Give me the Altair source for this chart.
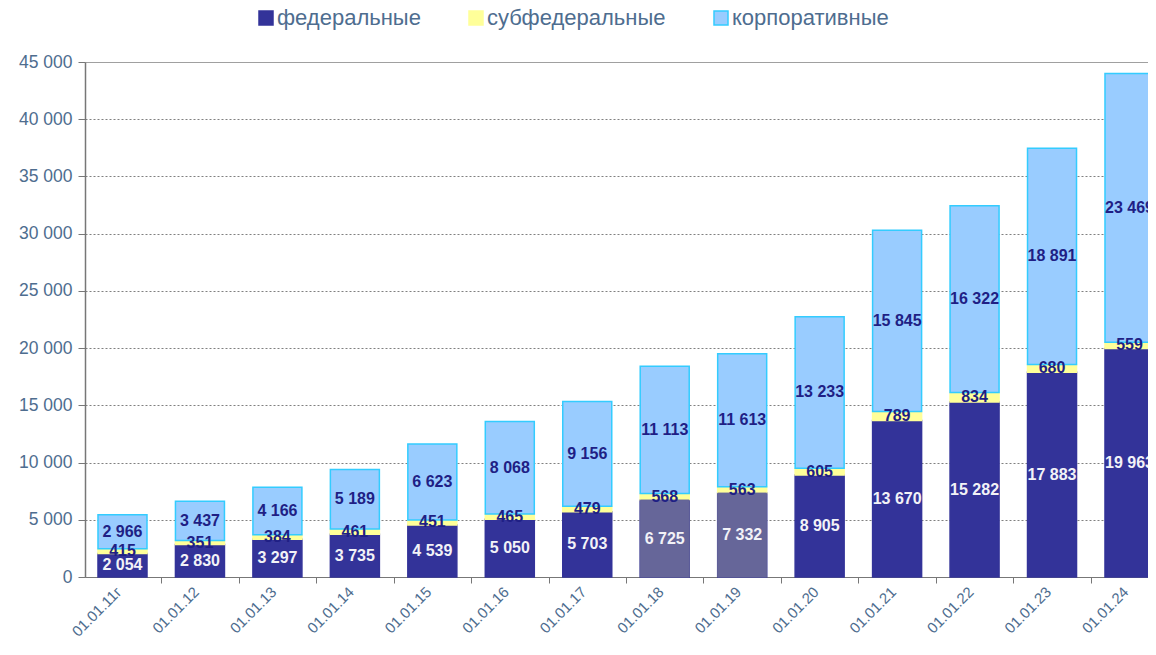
import json
import altair as alt
import pandas as pd

dates = ["01.01.11г", "01.01.12", "01.01.13", "01.01.14", "01.01.15", "01.01.16", "01.01.17",
         "01.01.18", "01.01.19", "01.01.20", "01.01.21", "01.01.22", "01.01.23", "01.01.24"]
federal = [2054, 2830, 3297, 3735, 4539, 5050, 5703, 6725, 7332, 8905, 13670, 15282, 17883, 19963]
subfederal = [415, 351, 384, 461, 451, 465, 479, 568, 563, 605, 789, 834, 680, 559]
corporate = [2966, 3437, 4166, 5189, 6623, 8068, 9156, 11113, 11613, 13233, 15845, 16322, 18891, 23469]
series_names = ["федеральные", "субфедеральные", "корпоративные"]
muted_dates = ["01.01.18", "01.01.19"]
y_ticks = list(range(0, 45001, 5000))

rows = []
for i, d in enumerate(dates):
    for k, (name, vals) in enumerate(zip(series_names, [federal, subfederal, corporate])):
        rows.append({"date": d, "idx": i, "series": name, "ord": k, "value": vals[i],
                     "muted": (k == 0 and d in muted_dates)})
df = pd.DataFrame(rows)

FONT = "Liberation Sans"
AXIS_TXT = "#4e6d8f"
GRID = "#808080"
HALF = 0.3163  # half bar width in category units

fill_scale = alt.Scale(domain=series_names, range=["#333399", "#FFFF99", "#99CCFF"])
stroke_scale = alt.Scale(domain=series_names, range=["#333399", "#FFFF99", "#33CCFF"])
x_scale = alt.Scale(domain=[-0.484, 13.239], nice=False, zero=False)
date_array = json.dumps(dates, ensure_ascii=False).replace('"', "'")

label_axis = alt.Axis(orient="bottom", values=list(range(len(dates))),
                      labelExpr=date_array + "[datum.value]",
                      labelAngle=-45, labelAlign="right", labelBaseline="middle",
                      labelFontSize=15, labelColor=AXIS_TXT, labelFont=FONT,
                      labelOffset=-4, labelPadding=12, ticks=False, domain=False, grid=False,
                      labelOverlap=False, labelFlush=False)
tick_axis = alt.Axis(orient="bottom", values=[i - 0.5 for i in range(len(dates))],
                     labels=False, ticks=True, tickSize=6, tickColor="#777777",
                     domain=True, domainColor="#777777", domainWidth=1.2, grid=False)

y_axis = alt.Axis(values=y_ticks, labelFontSize=17.5, labelColor=AXIS_TXT, labelFont=FONT,
                  labelExpr="replace(format(datum.value, ','), ',', ' ')",
                  tickSize=7, tickColor="#777777", domainColor="#777777",
                  domainWidth=1.5, labelPadding=6,
                  grid=True, gridColor=GRID, gridWidth=1,
                  gridDash={"condition": {"test": "datum.value === 45000", "value": [1, 0]},
                            "value": [2, 2]})
y_scale = alt.Scale(domain=[0, 45000], nice=False)

legend = alt.Legend(title=None, orient="none", legendX=170, legendY=-55, direction="horizontal",
                    symbolType="square", symbolSize=196, symbolStrokeWidth=1.5,
                    labelFontSize=22, labelFont=FONT, labelColor=AXIS_TXT, columnPadding=44,
                    labelOffset=0, labelLimit=400, padding=0)

base = alt.Chart(df).transform_window(
    cum="sum(value)", groupby=["date"], sort=[alt.SortField("ord", order="ascending")],
    frame=[None, 0]
).transform_calculate(
    start="datum.cum - datum.value",
    mid="datum.cum - datum.value / 2",
    x0="datum.idx - %f" % HALF,
    x1="datum.idx + %f" % HALF,
    label="replace(format(datum.value, ','), ',', ' ')"
)

bars = base.mark_bar(strokeWidth=1.5).encode(
    x=alt.X("x0:Q", title=None, scale=x_scale, axis=label_axis),
    x2="x1:Q",
    y=alt.Y("start:Q", title=None, scale=y_scale, axis=y_axis),
    y2="cum:Q",
    fill=alt.Fill("series:N", scale=fill_scale, sort=series_names, legend=legend),
    stroke=alt.Stroke("series:N", scale=stroke_scale, sort=series_names, legend=legend),
)

muted = base.transform_filter("datum.muted").mark_bar(
    fill="#666699", stroke="#666699", strokeWidth=1
).encode(
    x=alt.X("x0:Q", title=None, scale=x_scale, axis=tick_axis),
    x2="x1:Q",
    y=alt.Y("start:Q", title=None, scale=y_scale, axis=y_axis),
    y2="cum:Q",
)

labels = base.mark_text(font=FONT, fontSize=16, fontWeight="bold", baseline="middle",
                        align="center").encode(
    x=alt.X("idx:Q", title=None, scale=x_scale, axis=None),
    y=alt.Y("mid:Q", title=None, scale=y_scale, axis=y_axis),
    text="label:N",
    color=alt.condition(alt.datum.ord == 0, alt.value("#f2f2f7"), alt.value("#1f1f85")),
)

chart = alt.layer(bars, muted, labels).resolve_axis(x="independent").properties(
    width=1063, height=515,
    autosize=alt.AutoSizeParams(type="none"),
    padding={"left": 77, "top": 54, "right": 0, "bottom": 64},
    background="white",
).configure_view(stroke=None)

chart.save("out.html", embed_options={"renderer": "svg", "actions": False})
